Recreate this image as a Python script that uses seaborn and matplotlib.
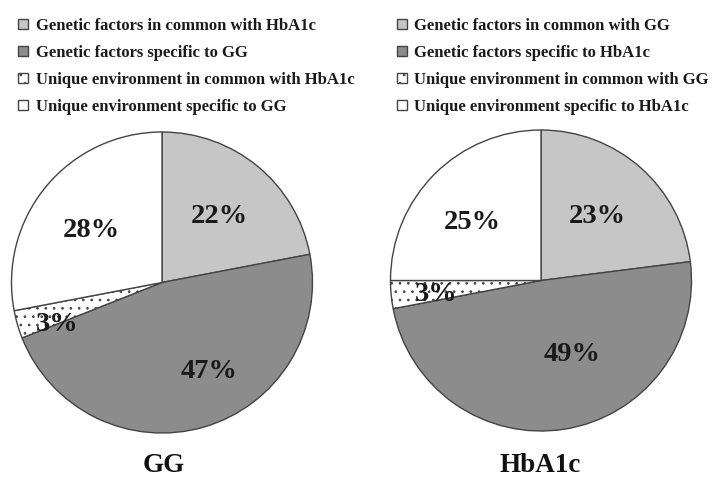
import matplotlib
matplotlib.use("Agg")
import matplotlib.pyplot as plt
import seaborn as sns

# ---- data ----
gg_labels = ["Genetic factors in common with HbA1c",
             "Genetic factors specific to GG",
             "Unique environment in common with HbA1c",
             "Unique environment specific to GG"]
gg_values = [22, 47, 3, 28]

hba_labels = ["Genetic factors in common with GG",
              "Genetic factors specific to HbA1c",
              "Unique environment in common with GG",
              "Unique environment specific to HbA1c"]
hba_values = [23, 49, 3, 25]

titles = ["GG", "HbA1c"]

# ---- style ----
sns.set_theme(style="white")
plt.rcParams['font.family'] = ['Liberation Serif', 'DejaVu Serif']
plt.rcParams['hatch.linewidth'] = 0.7
plt.rcParams['hatch.color'] = '#777777'

fill_colors = ["#c6c6c6", "#8c8c8c", "#ffffff", "#ffffff"]
hatches = [None, None, "..", None]
edge_color = "#444444"

W, H = 718, 479
fig = plt.figure(figsize=(W / 100, H / 100), dpi=100)

# layout (pixels): pie centre, radius, legend anchor, title position, label offsets
layouts = [
    dict(cx=162, cy=282.5, r=150.5, leg=(13, 13), tx=164, ty=466,
         offs=[(0.38, 0.457), (0.313, -0.57), (-0.70, -0.257), (-0.473, 0.363)]),
    dict(cx=541, cy=280.5, r=150.5, leg=(392, 13), tx=540, ty=466,
         offs=[(0.373, 0.447), (0.207, -0.473), (-0.70, -0.073), (-0.46, 0.407)]),
]
datasets = [(gg_values, gg_labels), (hba_values, hba_labels)]

pad = 1.03
for (vals, labs), lay, title in zip(datasets, layouts, titles):
    rr = lay["r"] * pad
    ax = fig.add_axes([(lay["cx"] - rr) / W, (H - lay["cy"] - rr) / H,
                       2 * rr / W, 2 * rr / H])
    wedges, _ = ax.pie(vals, colors=fill_colors, startangle=90, counterclock=False,
                       wedgeprops=dict(edgecolor=edge_color, linewidth=1.0))
    for w, h in zip(wedges, hatches):
        if h:
            w.set_hatch(h)
    ax.set_xlim(-pad, pad)
    ax.set_ylim(-pad, pad)
    ax.set_aspect('auto')
    ax.axis('off')
    for v, (dx, dy) in zip(vals, lay["offs"]):
        ax.text(dx, dy, f"{v}%", ha='center', va='center_baseline',
                fontsize=20.5, fontweight='bold', color='#1a1a1a')
    leg = fig.legend(wedges, labs, loc='upper left',
                     bbox_to_anchor=(lay["leg"][0] / W, 1 - lay["leg"][1] / H),
                     bbox_transform=fig.transFigure, frameon=False,
                     prop=dict(family=['Liberation Serif'], weight='bold', size=12.0),
                     handlelength=0.6, handleheight=0.6, handletextpad=0.45,
                     labelspacing=0.66, borderpad=0.3, borderaxespad=0)
    for t in leg.get_texts():
        t.set_color('#1a1a1a')
    fig.text(lay["tx"] / W, 1 - lay["ty"] / H, title, ha='center', va='center',
             fontsize=19.5, fontweight='bold', color='#111111')

fig.savefig("out.png", dpi=100, facecolor='white')
